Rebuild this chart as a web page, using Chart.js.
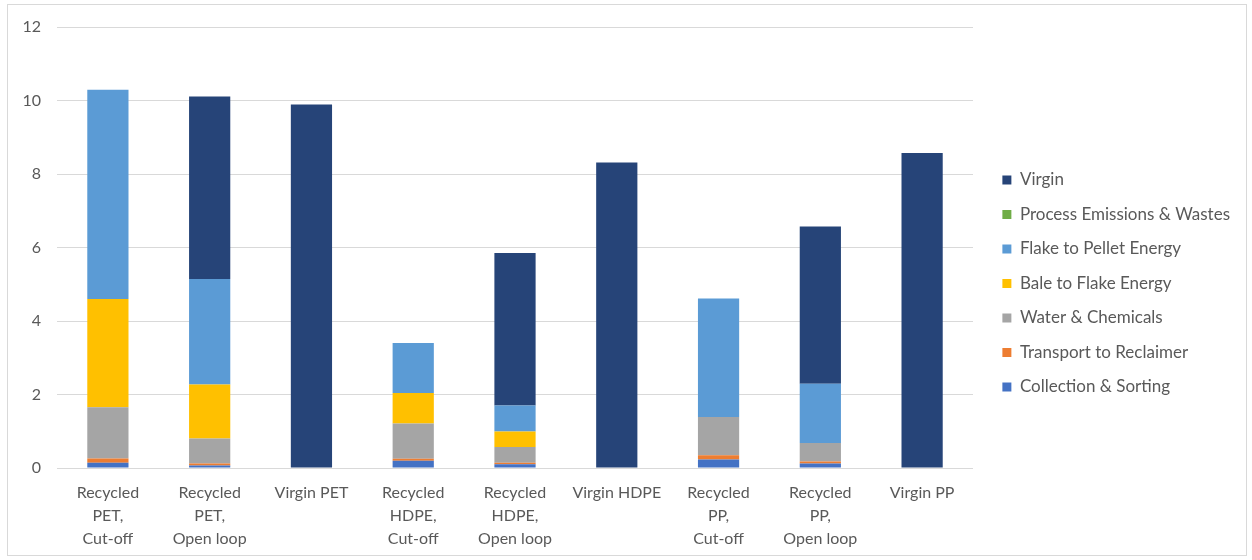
<!DOCTYPE html>
<html>
<head>
<meta charset="utf-8">
<script src="https://cdn.jsdelivr.net/npm/chart.js@4/dist/chart.umd.min.js"></script>
<style>
  html, body { margin: 0; padding: 0; background: #ffffff; }
  #frame { position: absolute; left: 7px; top: 4px; width: 1240px; height: 552px; border: 1px solid #d9d9d9; box-sizing: border-box; }
  #wrap { position: absolute; left: 0; top: 0; width: 1252px; height: 560px; }
</style>
</head>
<body>
<div id="frame"></div>
<div id="wrap"><canvas id="c" width="1252" height="560"></canvas></div>
<script>
// Categories (wrapped onto lines as shown under the axis)
const categories = [
  ["Recycled", "PET,", "Cut-off"],
  ["Recycled", "PET,", "Open loop"],
  "Virgin PET",
  ["Recycled", "HDPE,", "Cut-off"],
  ["Recycled", "HDPE,", "Open loop"],
  "Virgin HDPE",
  ["Recycled", "PP,", "Cut-off"],
  ["Recycled", "PP,", "Open loop"],
  "Virgin PP"
];

// Stacked components, bottom to top
const collectionSorting   = [0.14, 0.07, 0, 0.20, 0.10, 0, 0.23, 0.12, 0];
const transportReclaimer  = [0.12, 0.05, 0, 0.05, 0.04, 0, 0.12, 0.06, 0];
const waterChemicals      = [1.39, 0.68, 0, 0.96, 0.43, 0, 1.04, 0.50, 0];
const baleToFlake         = [2.95, 1.47, 0, 0.83, 0.42, 0, 0, 0, 0];
const flakeToPellet       = [5.69, 2.87, 0, 1.36, 0.71, 0, 3.22, 1.61, 0];
const processEmissions    = [0, 0, 0, 0, 0, 0, 0, 0, 0];
const virgin              = [0, 4.97, 9.89, 0, 4.15, 8.31, 0, 4.28, 8.57];

const yTicks = [0, 2, 4, 6, 8, 10, 12];

const textColor = '#595959';
const gridColor = '#d9d9d9';
const fontFamily = 'Lato, "Open Sans", sans-serif';

const series = [
  { label: 'Collection & Sorting',       data: collectionSorting,  color: '#4472C4' },
  { label: 'Transport to Reclaimer',     data: transportReclaimer, color: '#ED7D31' },
  { label: 'Water & Chemicals',          data: waterChemicals,     color: '#A5A5A5' },
  { label: 'Bale to Flake Energy',       data: baleToFlake,        color: '#FFC000' },
  { label: 'Flake to Pellet Energy',     data: flakeToPellet,      color: '#5B9BD5' },
  { label: 'Process Emissions & Wastes', data: processEmissions,   color: '#70AD47' },
  { label: 'Virgin',                     data: virgin,             color: '#264478' }
];

// Legend sizing
const legendFontSize = 17;
const legendBox = 9;
const legendPad = 17.5;
const rightPad = 12;
const plotRight = 973;

function legendWidth(ctx) {
  ctx.save();
  ctx.font = `${legendFontSize}px ${fontFamily}`;
  const w = Math.max(...series.map(s => ctx.measureText(s.label).width));
  ctx.restore();
  return legendPad + legendBox + legendFontSize / 2 + w + 10;
}

new Chart(document.getElementById('c'), {
  type: 'bar',
  data: {
    labels: categories,
    datasets: series.map(s => ({
      label: s.label,
      data: s.data,
      backgroundColor: s.color,
      borderWidth: 0,
      categoryPercentage: 1,
      barPercentage: 0.405
    }))
  },
  options: {
    responsive: false,
    animation: false,
    devicePixelRatio: 1,
    layout: { padding: { left: 0, top: 7, right: rightPad, bottom: 0 } },
    plugins: {
      tooltip: { enabled: false },
      // empty title only reserves the space above the plot
      title: {
        display: true,
        text: '',
        font: { size: 20, lineHeight: 1 },
        padding: 0
      },
      legend: {
        position: 'right',
        reverse: true,
        maxWidth: 400,
        labels: {
          color: textColor,
          font: { family: fontFamily, size: legendFontSize },
          boxWidth: legendBox,
          boxHeight: legendBox,
          padding: legendPad
        }
      }
    },
    scales: {
      x: {
        stacked: true,
        grid: { display: false, drawTicks: false },
        border: { display: false },
        ticks: {
          color: textColor,
          font: { family: fontFamily, size: 16, lineHeight: 1.45 },
          padding: 13,
          maxRotation: 0,
          autoSkip: false
        },
        afterFit: (scale) => { scale.height = 92; }
      },
      y: {
        stacked: true,
        min: 0,
        max: 12,
        afterBuildTicks: (scale) => { scale.ticks = yTicks.map(v => ({ value: v })); },
        grid: { color: gridColor, lineWidth: 1, drawTicks: false },
        border: { display: false },
        ticks: {
          color: textColor,
          font: { family: fontFamily, size: 16 },
          padding: 16
        },
        afterFit: (scale) => { scale.width = 57; }
      },
      gap: {
        position: 'right',
        display: true,
        grid: { display: false, drawTicks: false },
        border: { display: false },
        ticks: { display: false },
        afterFit: (scale) => {
          const c = scale.chart;
          scale.width = Math.max(0, c.width - rightPad - legendWidth(c.ctx) - plotRight);
        }
      }
    }
  }
});
</script>
</body>
</html>
